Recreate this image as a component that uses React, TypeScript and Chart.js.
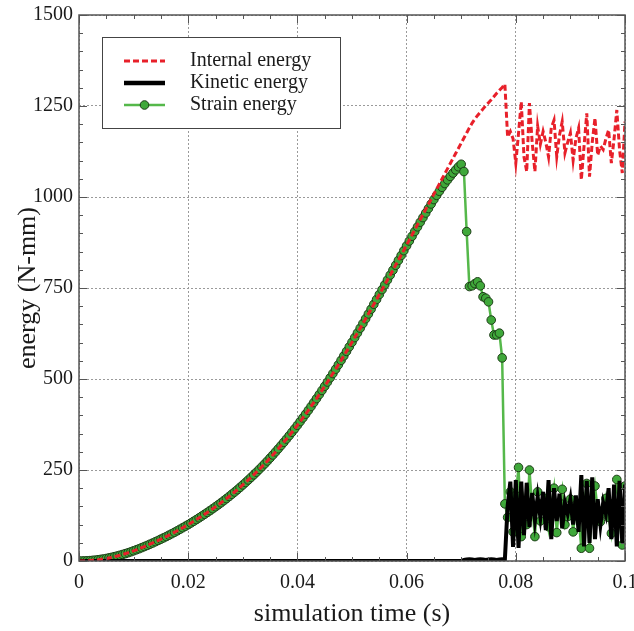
import React, { useEffect, useRef } from "react";
import { Chart, registerables } from "chart.js";

Chart.register(...registerables);

// sampling interval of the simulation output (s)
const TIME_STEP = 0.0005;

const INTERNAL_ENERGY = [
  0, 0.1, 0.3, 0.6, 1.1, 1.8, 2.5, 3.4, 4.5, 5.7, 7.0,
  8.5, 10.1, 11.9, 13.8, 15.8, 18.0, 20.3, 22.7, 25.3, 28.0,
  30.8, 33.7, 36.7, 39.8, 42.9, 46.2, 49.5, 53.0, 56.5, 60.0,
  63.6, 67.3, 71.1, 75.0, 79.0, 83.0, 87.2, 91.4, 95.7, 100,
  104.5, 109.1, 113.8, 118.6, 123.4, 128.4, 133.4, 138.5, 143.7, 149,
  154.4, 159.9, 165.6, 171.4, 177.3, 183.4, 189.5, 195.8, 202.3, 209,
  215.7, 222.6, 229.6, 236.7, 244.0, 251.5, 259.1, 266.8, 274.7, 283,
  291.3, 299.7, 308.3, 317.1, 326.0, 335.1, 344.3, 353.7, 363.3, 373,
  383.0, 393.1, 403.4, 413.9, 424.5, 435.3, 446.2, 457.3, 468.6, 480,
  491.6, 503.3, 515.1, 527.0, 539.0, 551.2, 563.5, 575.9, 588.4, 601,
  613.8, 626.6, 639.6, 652.5, 665.6, 678.7, 691.9, 705.2, 718.5, 732,
  745.4, 758.8, 772.2, 785.6, 799.0, 813, 826, 840, 854, 868,
  882, 896, 910, 924, 938, 952, 966, 980, 994, 1008,
  1022, 1036, 1050, 1064, 1078, 1092, 1106, 1120, 1134, 1148,
  1162, 1176, 1190, 1203, 1214, 1224, 1233, 1242, 1251, 1259,
  1267, 1276, 1285, 1293, 1301, 1310,
  1165, 1180, 1160, 1093, 1175, 1262, 1110, 1070, 1258, 1150,
  1070, 1195, 1145, 1180, 1150, 1110, 1190, 1211, 1111, 1170,
  1207, 1121, 1150, 1176, 1101, 1160, 1189, 1047, 1140, 1230,
  1056, 1150, 1217, 1115, 1140, 1130, 1160, 1184, 1093, 1160,
  1239, 1130, 1066, 1207,
];

const KINETIC_ENERGY = [
  0, 0, 0, 0, 0, 0, 0, 0, 0, 0, 0,
  0, 0, 0, 0, 0, 0, 0, 0, 0, 0,
  0, 0, 0, 0, 0, 0, 0, 0, 0, 0,
  0, 0, 0, 0, 0, 0, 0, 0, 0, 0,
  0, 0, 0, 0, 0, 0, 0, 0, 0, 0,
  0, 0, 0, 0, 0, 0, 0, 0, 0, 0,
  0, 0, 0, 0, 0, 0, 0, 0, 0, 0,
  0, 0, 0, 0, 0, 0, 0, 0, 0, 0,
  0, 0, 0, 0, 0, 0, 0, 0, 0, 0,
  0, 0, 0, 0, 0, 0, 0, 0, 0, 0,
  0, 0, 0, 0, 0, 0, 0, 0, 0, 0,
  0, 0, 0, 0, 0, 0, 0, 0, 0, 0,
  0, 0, 0, 0, 0, 0, 0, 0, 0, 0,
  0, 0, 0, 0, 0, 0, 0, 0, 0, 0,
  3, 4, 5, 4, 3, 4, 5, 4, 3, 4,
  5, 4, 3, 4, 5, 4,
  150, 218, 39, 222, 36, 218, 71, 215, 93, 187,
  113, 176, 121, 190, 85, 222, 60, 200, 110, 185,
  90, 160, 130, 170, 100, 180, 80, 236, 40, 220,
  50, 230, 60, 170, 100, 160, 130, 200, 60, 210,
  40, 220, 50, 210,
];

const STRAIN_ENERGY = [
  0, 0.1, 0.3, 0.6, 1.1, 1.8, 2.5, 3.4, 4.5, 5.7, 7.0,
  8.5, 10.1, 11.9, 13.8, 15.8, 18.0, 20.3, 22.7, 25.3, 28.0,
  30.8, 33.7, 36.7, 39.8, 42.9, 46.2, 49.5, 53.0, 56.5, 60.0,
  63.6, 67.3, 71.1, 75.0, 79.0, 83.0, 87.2, 91.4, 95.7, 100,
  104.5, 109.1, 113.8, 118.6, 123.4, 128.4, 133.4, 138.5, 143.7, 149,
  154.4, 159.9, 165.6, 171.4, 177.3, 183.4, 189.5, 195.8, 202.3, 209,
  215.7, 222.6, 229.6, 236.7, 244.0, 251.5, 259.1, 266.8, 274.7, 283,
  291.3, 299.7, 308.3, 317.1, 326.0, 335.1, 344.3, 353.7, 363.3, 373,
  383.0, 393.1, 403.4, 413.9, 424.5, 435.3, 446.2, 457.3, 468.6, 480,
  491.6, 503.3, 515.1, 527.0, 539.0, 551.2, 563.5, 575.9, 588.4, 601,
  613.8, 626.6, 639.6, 652.5, 665.6, 678.7, 691.9, 705.2, 718.5, 732,
  745.4, 758.8, 772.2, 785.6, 799.0, 812.4, 825.8, 839.2, 852.6, 866,
  879.2, 892.2, 905.2, 918.0, 930.8, 943.4, 956.0, 968.4, 980.8, 993,
  1004.6, 1015.8, 1026.6, 1037.0, 1047.0, 1056.6, 1065.8, 1074.6, 1083.0, 1090,
  1070, 905, 754, 756, 762, 767, 756, 726, 722, 712,
  662, 621, 621, 626, 558, 157,
  120, 190, 80, 180, 257, 67, 160, 100, 250, 150,
  67, 190, 110, 160, 172, 94, 150, 200, 78, 160,
  197, 100, 122, 170, 80, 150, 120, 35, 150, 213,
  35, 150, 206, 140, 108, 130, 172, 120, 76, 160,
  224, 120, 44, 206,
];

const SERIES_NAMES = ["Internal energy", "Kinetic energy", "Strain energy"];
const X_TICK_LABELS = ["0", "0.02", "0.04", "0.06", "0.08", "0.1"];
const Y_TICK_LABELS = ["0", "250", "500", "750", "1000", "1250", "1500"];
const X_TITLE = "simulation time (s)";
const Y_TITLE = "energy (N-mm)";

const FONT = "'Liberation Serif', 'Times New Roman', Times, serif";
const RED = "#e8202a";
const GREEN_LINE = "#55b84a";
const GREEN_FILL = "#3fa83a";
const GREEN_EDGE = "#1d3d17";
const FRAME = "#555555";

function toPoints(values: number[]) {
  return values.map((y, i) => ({ x: i * TIME_STEP, y }));
}

const frameTicksPlugin = {
  id: "frameTicks",
  afterDatasetsDraw(chart: any) {
    const { ctx, chartArea: a, scales } = chart;
    const xs = scales.x;
    const ys = scales.y;
    ctx.save();
    ctx.strokeStyle = FRAME;
    ctx.lineWidth = 1;
    ctx.beginPath();
    for (let k = 0; k <= 20; k++) {
      const px = Math.round(xs.getPixelForValue(k * 0.005)) + 0.5;
      const len = k % 4 === 0 ? 8 : 4;
      ctx.moveTo(px, a.bottom);
      ctx.lineTo(px, a.bottom - len);
      ctx.moveTo(px, a.top);
      ctx.lineTo(px, a.top + len);
    }
    for (let k = 0; k <= 30; k++) {
      const py = Math.round(ys.getPixelForValue(k * 50)) + 0.5;
      const len = k % 5 === 0 ? 8 : 4;
      ctx.moveTo(a.left, py);
      ctx.lineTo(a.left + len, py);
      ctx.moveTo(a.right, py);
      ctx.lineTo(a.right - len, py);
    }
    ctx.stroke();
    ctx.lineWidth = 1.5;
    ctx.strokeRect(a.left, a.top, a.right - a.left, a.bottom - a.top);
    ctx.restore();
  },
};

const legendPlugin = {
  id: "insideLegend",
  afterDraw(chart: any) {
    const { ctx, chartArea: a } = chart;
    const bx = a.left + 23;
    const by = a.top + 22;
    const bw = 238;
    const bh = 91;
    ctx.save();
    ctx.fillStyle = "#ffffff";
    ctx.fillRect(bx, by, bw, bh);
    ctx.strokeStyle = "#444";
    ctx.lineWidth = 1;
    ctx.strokeRect(bx + 0.5, by + 0.5, bw, bh);
    const x1 = bx + 22;
    const x2 = bx + 63;
    const tx = bx + 88;
    const rows = [by + 24, by + 46, by + 68];
    ctx.strokeStyle = RED;
    ctx.lineWidth = 3;
    ctx.setLineDash([6, 3]);
    ctx.beginPath();
    ctx.moveTo(x1, rows[0]);
    ctx.lineTo(x2, rows[0]);
    ctx.stroke();
    ctx.setLineDash([]);
    ctx.strokeStyle = "#000";
    ctx.lineWidth = 4.5;
    ctx.beginPath();
    ctx.moveTo(x1, rows[1]);
    ctx.lineTo(x2, rows[1]);
    ctx.stroke();
    ctx.strokeStyle = GREEN_LINE;
    ctx.lineWidth = 2.5;
    ctx.beginPath();
    ctx.moveTo(x1, rows[2]);
    ctx.lineTo(x2, rows[2]);
    ctx.stroke();
    ctx.fillStyle = GREEN_FILL;
    ctx.strokeStyle = GREEN_EDGE;
    ctx.lineWidth = 1;
    ctx.beginPath();
    ctx.arc((x1 + x2) / 2, rows[2], 4.3, 0, Math.PI * 2);
    ctx.fill();
    ctx.stroke();
    ctx.fillStyle = "#1a1a1a";
    ctx.font = `20px ${FONT}`;
    ctx.textAlign = "left";
    ctx.textBaseline = "middle";
    SERIES_NAMES.forEach((name, i) => ctx.fillText(name, tx, rows[i]));
    ctx.restore();
  },
};

export default function App() {
  const canvasRef = useRef<HTMLCanvasElement | null>(null);

  useEffect(() => {
    document.body.style.margin = "0";
    const canvas = canvasRef.current;
    if (!canvas) return;
    const chart = new Chart(canvas, {
      type: "line",
      data: {
        datasets: [
          {
            label: SERIES_NAMES[0],
            data: toPoints(INTERNAL_ENERGY),
            borderColor: RED,
            borderWidth: 3,
            borderDash: [6, 3],
            pointRadius: 0,
            tension: 0,
            fill: false,
          },
          {
            label: SERIES_NAMES[1],
            data: toPoints(KINETIC_ENERGY),
            borderColor: "#000000",
            borderWidth: 4,
            pointRadius: 0,
            tension: 0,
            fill: false,
          },
          {
            label: SERIES_NAMES[2],
            data: toPoints(STRAIN_ENERGY),
            borderColor: GREEN_LINE,
            borderWidth: 2.5,
            pointRadius: 4.3,
            pointBackgroundColor: GREEN_FILL,
            pointBorderColor: GREEN_EDGE,
            pointBorderWidth: 1,
            tension: 0,
            fill: false,
          },
        ],
      },
      options: {
        responsive: false,
        animation: false,
        events: [],
        layout: { padding: { top: 15, right: 9, left: 0, bottom: 0 } },
        plugins: {
          legend: { display: false },
          tooltip: { enabled: false },
          title: { display: false },
        },
        scales: {
          x: {
            type: "linear",
            min: 0,
            max: 0.1,
            afterFit(scale: any) {
              scale.height = 70;
              scale.paddingLeft = 0;
              scale.paddingRight = 0;
            },
            ticks: {
              stepSize: 0.02,
              padding: 10,
              color: "#1a1a1a",
              font: { family: FONT, size: 20 },
              maxRotation: 0,
              autoSkip: false,
              callback: (_v: any, i: number) => X_TICK_LABELS[i],
            },
            grid: { color: "#9a9a9a", lineWidth: 1, drawTicks: false },
            border: { display: false, dash: [2, 2] },
            title: {
              display: true,
              text: X_TITLE,
              color: "#1a1a1a",
              font: { family: FONT, size: 26 },
              padding: { top: 0, bottom: 1 },
            },
          },
          y: {
            type: "linear",
            min: 0,
            max: 1500,
            afterFit(scale: any) {
              scale.width = 79;
              scale.paddingTop = 0;
              scale.paddingBottom = 0;
            },
            ticks: {
              stepSize: 250,
              padding: 6,
              color: "#1a1a1a",
              font: { family: FONT, size: 20 },
              autoSkip: false,
              callback: (_v: any, i: number) => Y_TICK_LABELS[i],
            },
            grid: { color: "#9a9a9a", lineWidth: 1, drawTicks: false },
            border: { display: false, dash: [2, 2] },
            title: {
              display: true,
              text: Y_TITLE,
              color: "#1a1a1a",
              font: { family: FONT, size: 26 },
              padding: { top: 13, bottom: 0 },
            },
          },
        },
      },
      plugins: [frameTicksPlugin, legendPlugin],
    });
    return () => chart.destroy();
  }, []);

  return (
    <div style={{ width: 634, height: 631 }}>
      <canvas ref={canvasRef} width={634} height={631} style={{ display: "block" }} />
    </div>
  );
}
